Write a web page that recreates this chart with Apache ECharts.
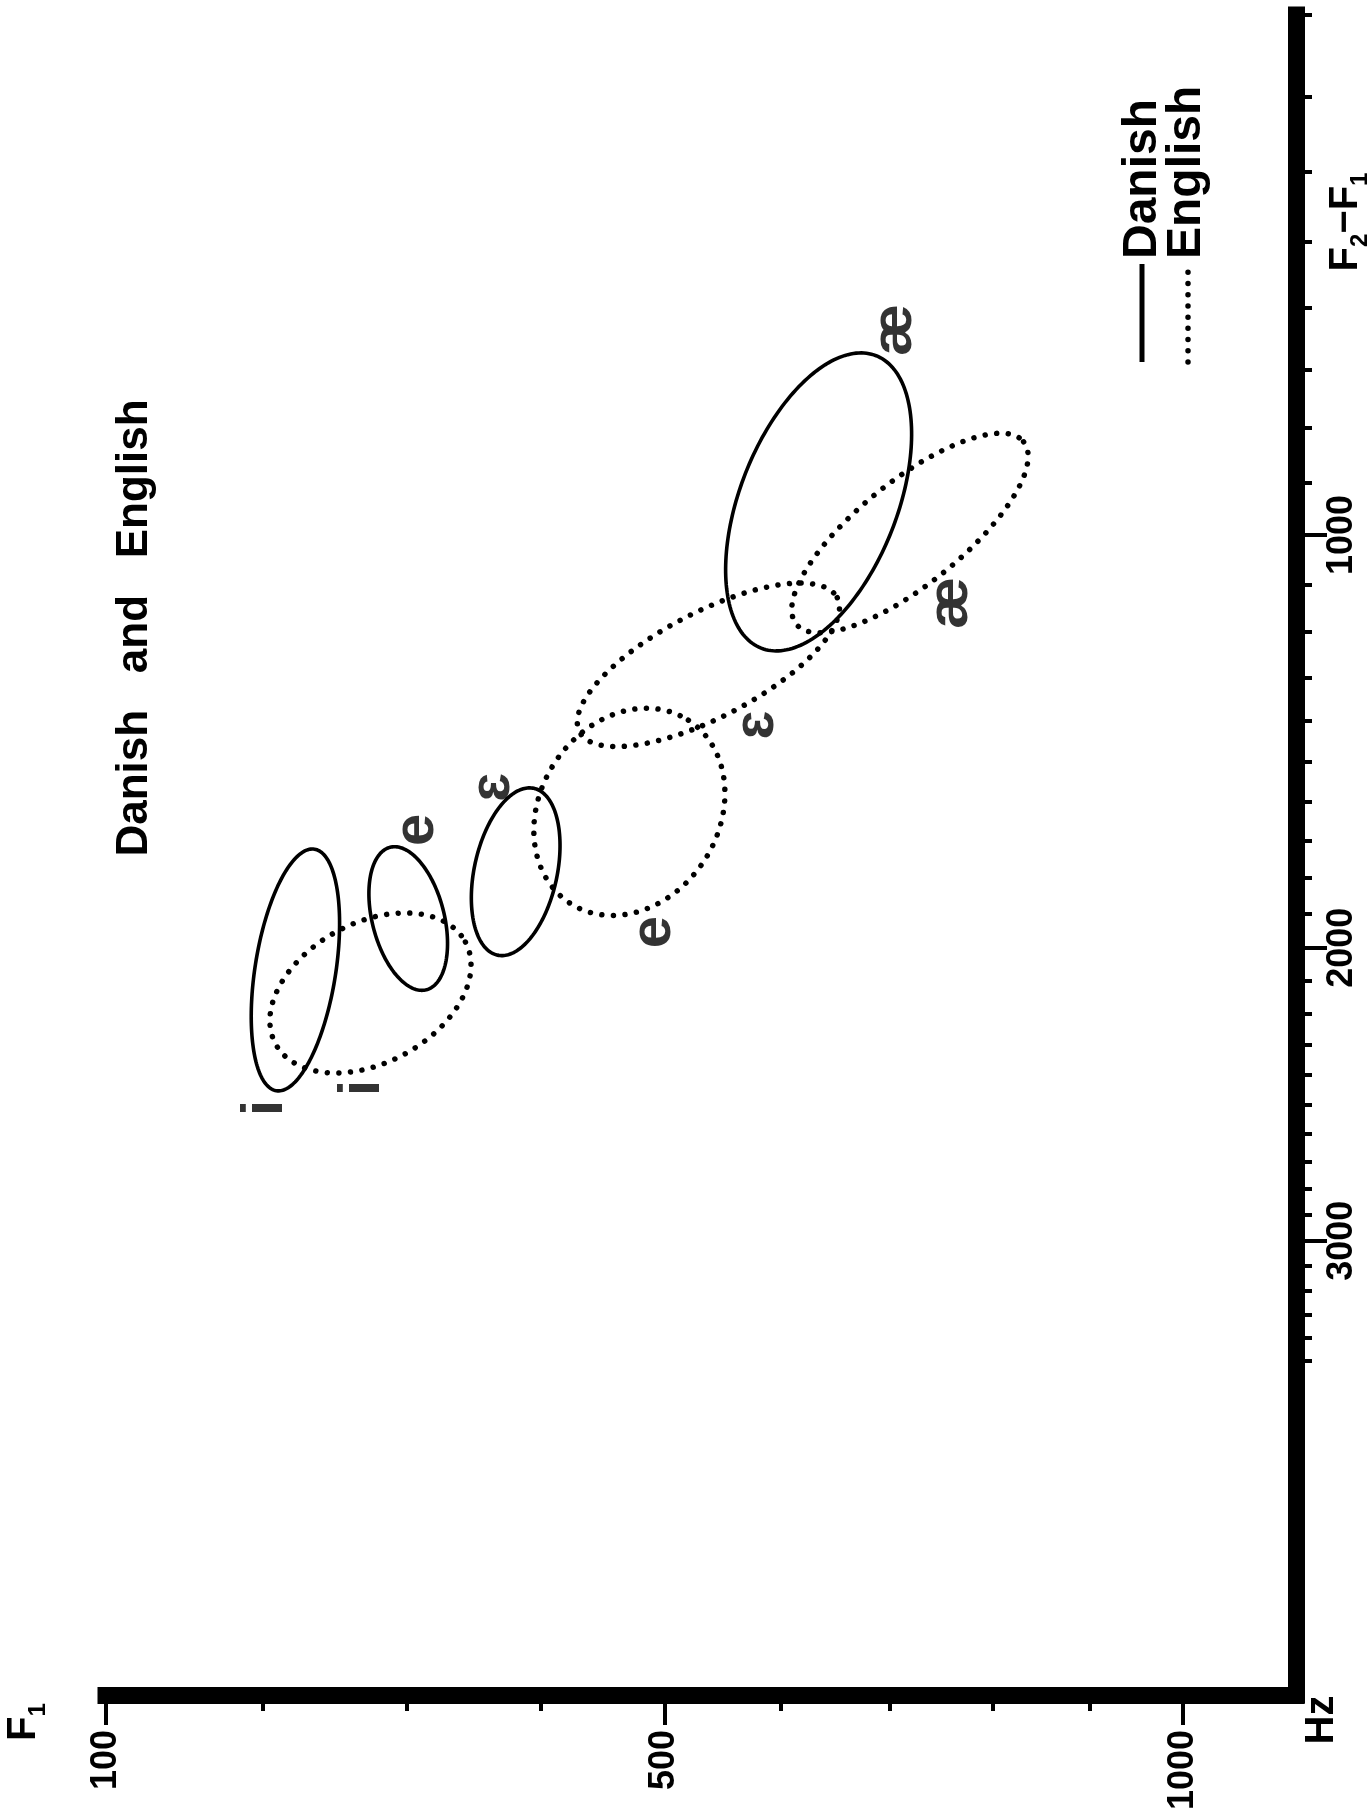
<!DOCTYPE html>
<html>
<head>
<meta charset="utf-8">
<script src="https://cdn.jsdelivr.net/npm/echarts@6/dist/echarts.min.js"></script>
<style>
  html, body { margin: 0; padding: 0; background: #fff; }
  #chart { width: 1371px; height: 1814px; }
</style>
</head>
<body>
<div id="chart"></div>
<script>
// Both formant axes use Fant's mel scale: m = 1000 * log2(1 + f / 1000)
const mel = f => 1000 * Math.log2(1 + f / 1000);
const hz = m => 1000 * (Math.pow(2, m / 1000) - 1);

const FONT = "'Liberation Sans', Arial, 'DejaVu Sans', sans-serif";

// Axis ranges (Hz) and tick marks (Hz)
const f1Range = [100, 1130];
const f2f1Range = [200, 5250];
const f1MajorTicks = [100, 500, 1000];
const f1MinorTicks = [200, 300, 400, 600, 700, 800, 900];
const f2f1MajorTicks = [1000, 2000, 3000];
const f2f1MinorTicks = [200, 300, 400, 500, 600, 700, 800, 900,
  1100, 1200, 1300, 1400, 1500, 1600, 1700, 1800, 1900,
  2100, 2200, 2300, 2400, 2500, 2600, 2700, 2800, 2900,
  3100, 3200, 3300, 3400, 3500];

// Vowel categories
const vowels = ['i', 'e', 'ɛ', 'æ'];

// Danish vowel ellipses: centre, end of the major axis (Hz), minor/major ratio
const danishCenterF1 = [222, 301, 381, 634];
const danishCenterF2F1 = [2066, 1915, 1784, 936];
const danishTipF1 = [235, 288, 395, 687];
const danishTipF2F1 = [1723, 1718, 1565, 677];
const danishRatio = [0.33, 0.49, 0.485, 0.50];

// English vowel ellipses
const englishCenterF1 = [274, 471, 537, 719];
const englishCenterF2F1 = [2136, 1625, 1272, 996];
const englishTipF1 = [343, 520, 651, 831];
const englishTipF2F1 = [1983, 1399, 1127, 825];
const englishRatio = [0.65, 0.82, 0.362, 0.356];

// Where each vowel symbol is written (Hz)
const danishLabelF1 = [202, 307, 364, 705];
const danishLabelF2F1 = [2511, 1672, 1562, 635];
const englishLabelF1 = [269, 491, 579, 759];
const englishLabelF2F1 = [2443, 1954, 1410, 1138];

function ellipseSeries(name, cF1, cF2F1, tF1, tF2F1, ratio, lineStyle) {
  const N = 200;
  return {
    type: 'custom',
    name: name,
    coordinateSystem: 'cartesian2d',
    xAxisIndex: 0,
    yAxisIndex: 0,
    silent: true,
    animation: false,
    encode: { x: [0, 2], y: [1, 3] },
    data: cF1.map((_, i) => [mel(cF1[i]), mel(cF2F1[i]), mel(tF1[i]), mel(tF2F1[i]), ratio[i]]),
    renderItem: function (params, api) {
      const c = api.coord([api.value(0), api.value(1)]);
      const t = api.coord([api.value(2), api.value(3)]);
      const dx = t[0] - c[0], dy = t[1] - c[1];
      const a = Math.hypot(dx, dy);
      const b = a * api.value(4);
      const ux = dx / a, uy = dy / a;
      const pts = [];
      for (let k = 0; k < N; k++) {
        const th = 2 * Math.PI * k / N;
        const p = Math.cos(th) * a, q = Math.sin(th) * b;
        pts.push([c[0] + ux * p - uy * q, c[1] + uy * p + ux * q]);
      }
      return {
        type: 'polygon',
        shape: { points: pts },
        style: Object.assign({ fill: 'none', stroke: '#000' }, lineStyle)
      };
    }
  };
}

function labelSeries(name, lf1, lf2f1) {
  return {
    type: 'scatter',
    name: name,
    xAxisIndex: 0,
    yAxisIndex: 0,
    silent: true,
    animation: false,
    symbol: 'circle',
    symbolSize: 1,
    itemStyle: { color: 'rgba(0,0,0,0)' },
    data: vowels.map((v, i) => ({ name: v, value: [mel(lf1[i]), mel(lf2f1[i])] })),
    label: {
      show: true,
      position: 'inside',
      rotate: 90,
      formatter: '{b}',
      fontSize: 58,
      fontWeight: 'bold',
      fontFamily: FONT,
      color: '#000'
    }
  };
}

const solidStyle = { lineWidth: 3.6 };
const dottedStyle = { lineWidth: 5.5, lineDash: [0.01, 11.6], lineCap: 'round' };

const labelText = { fontSize: 36, fontWeight: 'bold', fontFamily: FONT, color: '#000' };
const R = Math.PI / 2;

const chart = echarts.init(document.getElementById('chart'), null, { renderer: 'canvas' });

chart.setOption({
  backgroundColor: '#fff',
  animation: false,
  grid: { left: 106, top: 15, width: 1190, height: 1680, containLabel: false, outerBoundsMode: 'none' },
  xAxis: [
    {
      type: 'value', position: 'bottom', min: mel(f1Range[0]), max: mel(f1Range[1]),
      axisLine: { show: true, onZero: false, lineStyle: { color: '#000', width: 17, cap: 'square' } },
      axisTick: { show: true, customValues: f1MajorTicks.map(mel), length: 30, lineStyle: { color: '#000', width: 4 } },
      axisLabel: Object.assign({ show: true, customValues: f1MajorTicks.map(mel), rotate: 90, margin: 35,
        formatter: v => String(Math.round(hz(v) / 100) * 100) }, labelText),
      splitLine: { show: false }
    },
    {
      type: 'value', position: 'bottom', min: mel(f1Range[0]), max: mel(f1Range[1]),
      axisLine: { show: false },
      axisTick: { show: true, customValues: f1MinorTicks.map(mel), length: 16, lineStyle: { color: '#000', width: 4 } },
      axisLabel: { show: false },
      splitLine: { show: false }
    }
  ],
  yAxis: [
    {
      type: 'value', position: 'right', inverse: true, min: mel(f2f1Range[0]), max: mel(f2f1Range[1]),
      axisLine: { show: true, onZero: false, lineStyle: { color: '#000', width: 17, cap: 'square' } },
      axisTick: { show: true, customValues: f2f1MajorTicks.map(mel), length: 31, lineStyle: { color: '#000', width: 4 } },
      axisLabel: Object.assign({ show: true, customValues: f2f1MajorTicks.map(mel), rotate: 90, margin: 28,
        formatter: v => String(Math.round(hz(v) / 100) * 100) }, labelText),
      splitLine: { show: false }
    },
    {
      type: 'value', position: 'right', inverse: true, min: mel(f2f1Range[0]), max: mel(f2f1Range[1]),
      axisLine: { show: false },
      axisTick: { show: true, customValues: f2f1MinorTicks.map(mel), length: 16, lineStyle: { color: '#000', width: 4 } },
      axisLabel: { show: false },
      splitLine: { show: false }
    }
  ],
  series: [
    ellipseSeries('Danish', danishCenterF1, danishCenterF2F1, danishTipF1, danishTipF2F1, danishRatio, solidStyle),
    ellipseSeries('English', englishCenterF1, englishCenterF2F1, englishTipF1, englishTipF2F1, englishRatio, dottedStyle),
    labelSeries('Danish vowels', danishLabelF1, danishLabelF2F1),
    labelSeries('English vowels', englishLabelF1, englishLabelF2F1)
  ],
  graphic: [
    // title
    { type: 'text', x: 135, y: 628, rotation: R, silent: true,
      style: { text: 'Danish   and   English', fontSize: 44, fontWeight: 'bold', fontFamily: FONT,
        fill: '#000', align: 'center', verticalAlign: 'middle' } },
    // F1 axis name
    { type: 'text', x: 24, y: 1722, rotation: R, silent: true,
      style: { text: '{m|F}{s|1}', fontFamily: FONT, fill: '#000', align: 'center', verticalAlign: 'middle',
        rich: {
          m: { fontSize: 40, fontWeight: 'bold', fontFamily: FONT, lineHeight: 52, verticalAlign: 'middle' },
          s: { fontSize: 24, fontWeight: 'bold', fontFamily: FONT, lineHeight: 52, verticalAlign: 'bottom' }
        } } },
    // F2-F1 axis name
    { type: 'text', x: 1346, y: 222, rotation: R, silent: true,
      style: { text: '{m|F}{s|2}{m|−F}{s|1}', fontFamily: FONT, fill: '#000', align: 'center', verticalAlign: 'middle',
        rich: {
          m: { fontSize: 40, fontWeight: 'bold', fontFamily: FONT, lineHeight: 52, verticalAlign: 'middle' },
          s: { fontSize: 24, fontWeight: 'bold', fontFamily: FONT, lineHeight: 52, verticalAlign: 'bottom' }
        } } },
    // unit
    { type: 'text', x: 1322, y: 1720, rotation: R, silent: true,
      style: { text: 'Hz', fontSize: 40, fontWeight: 'bold', fontFamily: FONT, fill: '#000',
        align: 'center', verticalAlign: 'middle' } },
    // legend
    { type: 'line', silent: true, shape: { x1: 1142, y1: 362, x2: 1142, y2: 264 },
      style: { stroke: '#000', lineWidth: 5 } },
    { type: 'line', silent: true, shape: { x1: 1188, y1: 362, x2: 1188, y2: 266 },
      style: { stroke: '#000', lineWidth: 5.5, lineDash: [0.01, 11.2], lineCap: 'round' } },
    { type: 'text', x: 1143, y: 259, rotation: R, silent: true,
      style: { text: 'Danish', fontSize: 48, fontWeight: 'bold', fontFamily: FONT, fill: '#000',
        align: 'left', verticalAlign: 'middle' } },
    { type: 'text', x: 1187, y: 259, rotation: R, silent: true,
      style: { text: 'English', fontSize: 48, fontWeight: 'bold', fontFamily: FONT, fill: '#000',
        align: 'left', verticalAlign: 'middle' } }
  ]
});
</script>
</body>
</html>
